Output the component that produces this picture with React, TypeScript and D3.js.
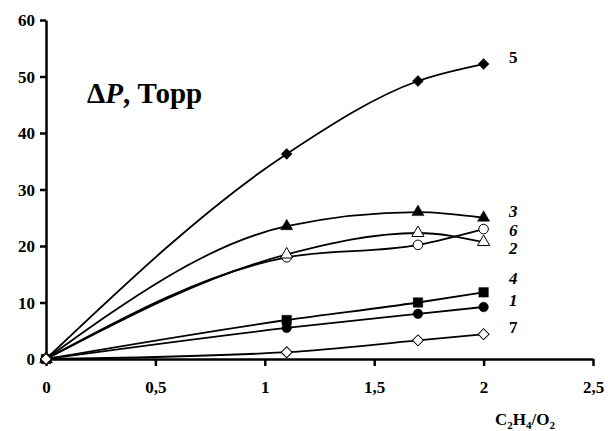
import * as d3 from 'd3';
import React, { useRef, useEffect } from 'react';

// C2H4/O2 ratio
const ratio = [0, 1.1, 1.7, 2.0];

// ΔP, Torr for each curve
const curve1 = [0, 5.5, 8.0, 9.2];
const curve2 = [0, 18.5, 22.3, 20.7];
const curve3 = [0, 23.5, 26.0, 25.0];
const curve4 = [0, 6.9, 10.0, 11.8];
const curve5 = [0, 36.3, 49.2, 52.2];
const curve6 = [0, 18.0, 20.2, 23.0];
const curve7 = [0, 1.2, 3.3, 4.4];

const xTicks = [0, 0.5, 1, 1.5, 2, 2.5];
const yTicks = [0, 10, 20, 30, 40, 50, 60];

const series = [
  { name: '5', values: curve5, marker: 'diamond', filled: true },
  { name: '3', values: curve3, marker: 'triangle', filled: true },
  { name: '6', values: curve6, marker: 'circle', filled: false },
  { name: '2', values: curve2, marker: 'triangle', filled: false },
  { name: '4', values: curve4, marker: 'square', filled: true },
  { name: '1', values: curve1, marker: 'circle', filled: true },
  { name: '7', values: curve7, marker: 'diamond', filled: false },
];

// where the curve numbers sit (in data units of y)
const labelY: Record<string, number> = { '5': 53.4, '3': 26.1, '6': 22.9, '2': 19.6, '4': 14.3, '1': 10.4, '7': 5.7 };

const FONT = "'Liberation Serif', 'Times New Roman', Times, serif";

function Chart({ width, height }: { width: number; height: number }) {
  const ref = useRef<SVGSVGElement>(null);

  useEffect(() => {
    const svg = d3.select(ref.current);
    svg.selectAll('*').remove();

    const x = d3.scaleLinear().domain([0, 2.5]).range([46, 593]);
    const y = d3.scaleLinear().domain([0, 60]).range([359, 20]);

    // lines
    const line = d3.line<number>()
      .x((d, i) => x(ratio[i]))
      .y(d => y(d))
      .curve(d3.curveMonotoneX);

    series.forEach(s => {
      svg.append('path')
        .attr('d', line(s.values))
        .attr('fill', 'none')
        .attr('stroke', '#000')
        .attr('stroke-width', 1.8);
    });

    // axes
    const yAxis = svg.append('g')
      .attr('transform', `translate(${x(0)},0)`)
      .call(d3.axisLeft(y).tickValues(yTicks).tickSize(6).tickSizeOuter(0).tickFormat(d3.format('d')));
    const xAxis = svg.append('g')
      .attr('transform', `translate(0,${y(0)})`)
      .call(d3.axisBottom(x).tickValues(xTicks).tickSize(7).tickSizeOuter(0)
        .tickFormat(d => (d === 0 ? '0' : String(d).replace('.', ','))));

    [xAxis, yAxis].forEach(g => {
      g.attr('font-family', null).attr('font-size', null);
      g.select('.domain').attr('stroke', '#000').attr('stroke-width', 2.5);
      g.selectAll('.tick line').attr('stroke', '#000').attr('stroke-width', 2.5);
      g.selectAll('.tick text')
        .style('font-family', FONT)
        .style('font-weight', 'bold')
        .style('font-size', '17px')
        .attr('fill', '#000');
    });
    yAxis.selectAll('.tick text').attr('x', -11).attr('dy', '0.35em');
    xAxis.selectAll('.tick text').attr('y', 22);

    // markers
    series.forEach(s => {
      const type = s.marker === 'circle' ? d3.symbolCircle
        : s.marker === 'triangle' ? d3.symbolTriangle
        : d3.symbolSquare;
      const size = s.marker === 'circle' ? 72 : s.marker === 'triangle' ? 64 : s.marker === 'square' ? 90 : 60;
      svg.append('g').selectAll('path')
        .data(s.values)
        .enter().append('path')
        .attr('d', d3.symbol().type(type).size(size)())
        .attr('transform', (d, i) => `translate(${x(ratio[i])},${y(d)})` + (s.marker === 'diamond' ? ' rotate(45)' : ''))
        .attr('fill', s.filled ? '#000' : '#fff')
        .attr('stroke', '#000')
        .attr('stroke-width', s.filled ? 0.5 : 1);
    });

    // curve numbers
    series.forEach(s => {
      svg.append('text')
        .attr('x', 509)
        .attr('y', y(labelY[s.name]))
        .attr('dy', '0.35em')
        .style('font-family', FONT)
        .style('font-weight', 'bold')
        .style('font-style', s.name === '5' || s.name === '7' ? 'normal' : 'italic')
        .style('font-size', '17px')
        .text(s.name);
    });

    // y title
    const title = svg.append('text')
      .attr('x', 87)
      .attr('y', 103)
      .style('font-family', FONT)
      .style('font-weight', 'bold')
      .style('font-size', '29px');
    title.append('tspan').text('Δ');
    title.append('tspan').style('font-style', 'italic').text('P');
    title.append('tspan').text(', Торр');

    // x title
    const xt = svg.append('text')
      .attr('x', 495)
      .attr('y', 425)
      .style('font-family', FONT)
      .style('font-weight', 'bold')
      .style('font-size', '17px');
    xt.append('tspan').text('C');
    xt.append('tspan').style('font-size', '11px').attr('dy', 4).text('2');
    xt.append('tspan').attr('dy', -4).text('H');
    xt.append('tspan').style('font-size', '11px').attr('dy', 4).text('4');
    xt.append('tspan').attr('dy', -4).text('/O');
    xt.append('tspan').style('font-size', '11px').attr('dy', 4).text('2');
  }, [width, height]);

  return (
    <svg ref={ref} width={width} height={height}
      style={{ position: 'absolute', left: 0, top: 0, background: '#fff' }} />
  );
}

export default function App() {
  return <Chart width={608} height={431} />;
}
